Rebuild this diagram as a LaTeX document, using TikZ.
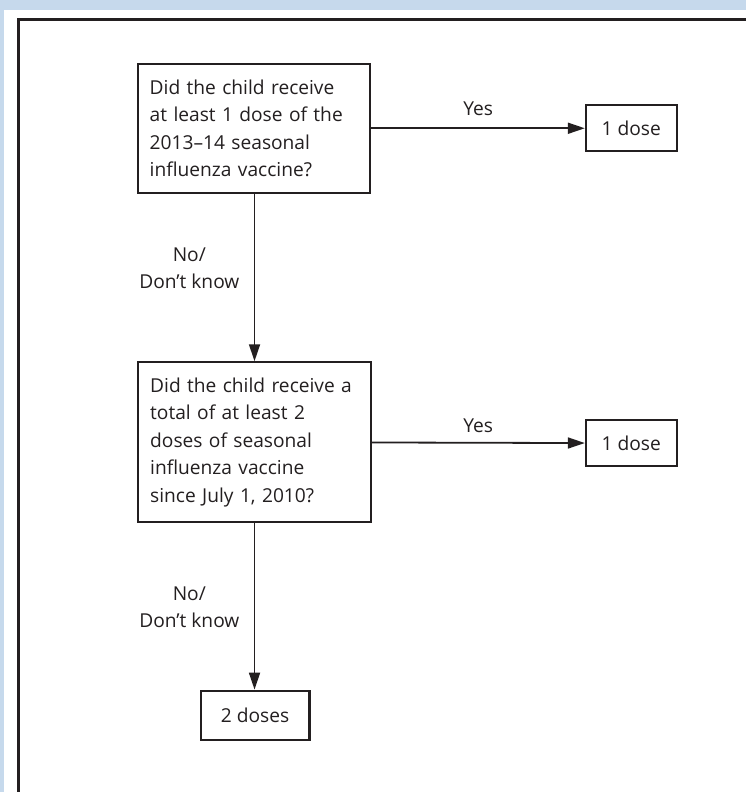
\documentclass[tikz,border=0pt]{standalone}
\usepackage{fontspec}
\setmainfont{Open Sans}
\usetikzlibrary{arrows.meta}
\definecolor{ink}{HTML}{231F20}
\definecolor{bgblue}{HTML}{C6D9EC}
\begin{document}
\begin{tikzpicture}[x=1pt,y=-1pt,
  box/.style={draw=ink, line width=2.2pt, text=ink, font=\fontsize{19.2}{27.5}\selectfont, inner sep=0pt},
  qbox/.style={box, minimum width=233pt, text width=209pt, align=left},
  dbox/.style={box, minimum width=91pt, minimum height=46pt},
  conn/.style={draw=ink, line width=1.8pt, -{Triangle[length=17pt,width=11pt]}},
  lbl/.style={text=ink, font=\fontsize{19.2}{27}\selectfont, inner sep=0pt}]
\fill[bgblue] (0,0) rectangle (747,793);
\fill[white] (4,10) rectangle (747,793);
\draw[ink, line width=3pt] (19,793) -- (19,20) -- (747,20);
\useasboundingbox (0,0) rectangle (747,793);
\node[qbox, minimum height=129pt] (q1) at (254.5,128.5) {Did the child receive\\at least 1 dose of the\\2013–14 seasonal\\influenza vaccine?};
\node[qbox, minimum height=160pt] (q2) at (255,443) {Did the child receive a\\total of at least 2\\doses of seasonal\\influenza vaccine\\since July 1, 2010?};
\node[dbox] (d1) at (632.5,128.5) {1 dose};
\node[dbox] (d2) at (632.5,444) {1 dose};
\node[box, minimum width=109pt, minimum height=49pt] (d3) at (255.5,716.5) {2 doses};
\draw[conn] (q1) -- (d1);
\draw[conn] (q2) -- (d2);
\draw[conn] (q1.south -| 255,0) -- (q2.north);
\draw[conn] (q2) -- (q2 |- d3.north);
\node[lbl, anchor=base] (y1) at (479,116) {Yes};
\node[lbl, anchor=base] (y2) at (479,433) {Yes};
\node[lbl, anchor=north east, align=center] (n1) at (240,248) {No/\\Don’t know};
\node[lbl, anchor=north east, align=center] (n2) at (240,588) {No/\\Don’t know};
\end{tikzpicture}
\end{document}
